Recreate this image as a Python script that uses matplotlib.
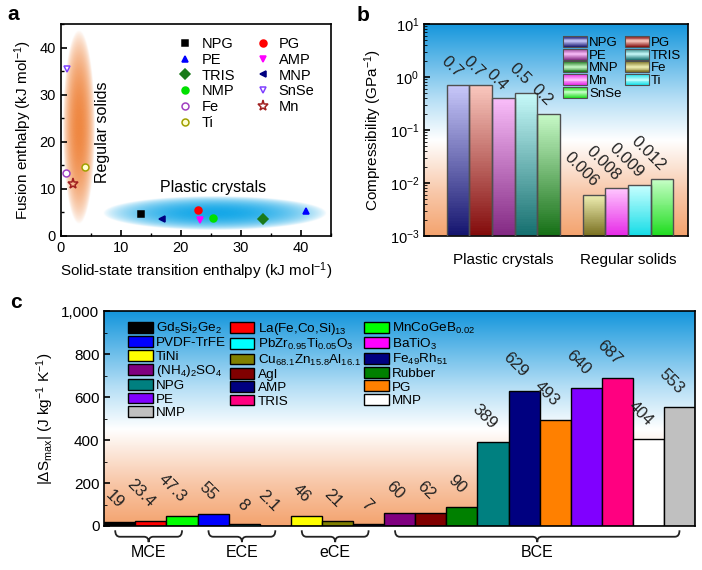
import numpy as np
import matplotlib
matplotlib.use('Agg')
import matplotlib.pyplot as plt
import matplotlib.transforms as mtransforms
from matplotlib.colors import LinearSegmentedColormap, to_rgb
from matplotlib.patches import Rectangle, Patch, PathPatch
from matplotlib.legend_handler import HandlerBase
from matplotlib.path import Path
from matplotlib.ticker import MultipleLocator, LogLocator, NullFormatter

plt.rcParams['font.family'] = 'Liberation Sans'
plt.rcParams['mathtext.fontset'] = 'custom'
plt.rcParams['mathtext.rm'] = 'Liberation Sans'
plt.rcParams['mathtext.it'] = 'Liberation Sans:italic'
plt.rcParams['font.size'] = 10.5
plt.rcParams['axes.linewidth'] = 1.2

# ---- panel a data
a_names = ['NPG', 'PE', 'TRIS', 'NMP', 'Fe', 'Ti', 'PG', 'AMP', 'MNP', 'SnSe', 'Mn']
a_trans = [13.4, 40.8, 33.7, 25.3, 0.8, 4.05, 22.8, 23.2, 16.9, 1.0, 2.1]
a_fusion = [4.6, 5.3, 3.7, 3.9, 13.3, 14.6, 5.5, 3.4, 3.7, 35.4, 11.1]
a_markers = ['s', '^', 'D', 'o', 'o', 'o', 'o', 'v', '<', 'v', '*']
a_edge = ['black', '#0000ff', '#1a7a1a', '#00e000', '#a040c0', '#a0a000',
          '#ff0000', '#ff00ff', '#000080', '#8040ff', '#a02020']
a_face = ['black', '#0000ff', '#1a7a1a', '#00e000', 'white', '#ffffd0',
          '#ff0000', '#ff00ff', '#000080', 'white', 'none']

# ---- panel b data
b_groups = ['Plastic crystals', 'Regular solids']
b_group_sizes = [5, 4]
b_names = ['NPG', 'PG', 'PE', 'TRIS', 'MNP', 'Fe', 'Mn', 'Ti', 'SnSe']
b_values = [0.7, 0.7, 0.4, 0.5, 0.2, 0.006, 0.008, 0.009, 0.012]
b_labels = ['0.7', '0.7', '0.4', '0.5', '0.2', '0.006', '0.008', '0.009', '0.012']
b_top = ['#c8c8fa', '#fac8be', '#fabefa', '#c8fafa', '#c8fac8',
         '#f0f0b4', '#ffc8ff', '#c8ffff', '#c8ffc8']
b_bottom = ['#14146e', '#820a0a', '#822882', '#146e6e', '#146e14',
            '#786e1e', '#e628e6', '#14dce6', '#1edc1e']
b_legend_order = ['NPG', 'PE', 'MNP', 'Mn', 'SnSe', 'PG', 'TRIS', 'Fe', 'Ti']

# ---- panel c data
c_names = ['Gd$_5$Si$_2$Ge$_2$', 'La(Fe,Co,Si)$_{13}$', 'MnCoGeB$_{0.02}$',
           'PVDF-TrFE', 'PbZr$_{0.95}$Ti$_{0.05}$O$_3$', 'BaTiO$_3$',
           'TiNi', 'Cu$_{68.1}$Zn$_{15.8}$Al$_{16.1}$', 'Fe$_{49}$Rh$_{51}$',
           '(NH$_4$)$_2$SO$_4$', 'AgI', 'Rubber', 'NPG', 'AMP', 'PG', 'PE',
           'TRIS', 'MNP', 'NMP']
c_values = [19, 23.4, 47.3, 55, 8, 2.1, 46, 21, 7, 60, 62, 90,
            389, 629, 493, 640, 687, 404, 553]
c_labels = ['19', '23.4', '47.3', '55', '8', '2.1', '46', '21', '7', '60', '62',
            '90', '389', '629', '493', '640', '687', '404', '553']
c_colors = ['#000000', '#ff0000', '#00ff00', '#0000ff', '#00ffff', '#ff00ff',
            '#ffff00', '#808000', '#000080', '#800080', '#800000', '#008000',
            '#008080', '#000080', '#ff8000', '#8000ff', '#ff0080', '#ffffff',
            '#c0c0c0']
c_groups = ['MCE', 'ECE', 'eCE', 'BCE']
c_group_sizes = [3, 3, 3, 10]

bg_cmap = LinearSegmentedColormap.from_list('bg', [
    (0.0, '#f4a36e'), (0.2, '#f8c7a8'), (0.45, '#ffffff'),
    (0.65, '#b4def5'), (1.0, '#1496dc')])

fig = plt.figure(figsize=(7.02, 5.70), dpi=100)


def add_background(pos):
    bg = fig.add_axes(pos, zorder=-1)
    bg.imshow(np.linspace(0, 1, 256)[:, None], extent=[0, 1, 0, 1],
              aspect='auto', cmap=bg_cmap, origin='lower')
    bg.axis('off')


def soft_ellipse(ax, cx, cy, rx, ry, color):
    xs = np.linspace(cx - rx, cx + rx, 300)
    ys = np.linspace(cy - ry, cy + ry, 300)
    X, Y = np.meshgrid(xs, ys)
    r2 = ((X - cx) / rx) ** 2 + ((Y - cy) / ry) ** 2
    img = np.zeros(X.shape + (4,))
    img[..., :3] = to_rgb(color)
    img[..., 3] = 0.92 * np.clip(1 - r2, 0, 1) ** 0.75
    ax.imshow(img, extent=[cx - rx, cx + rx, cy - ry, cy + ry],
              origin='lower', aspect='auto', zorder=1, interpolation='bilinear')


# ================= panel a
ax_a = fig.add_axes([0.0865, 0.586, 0.385, 0.372])
soft_ellipse(ax_a, 2.9, 23.0, 2.6, 20.5, '#ee7d31')
soft_ellipse(ax_a, 25.6, 4.8, 18.6, 3.6, '#00a0e6')
for i, name in enumerate(a_names):
    ms = 8 if a_markers[i] == '*' else 5
    ax_a.plot(a_trans[i], a_fusion[i], ls='none', marker=a_markers[i], ms=ms,
              mfc=a_face[i], mec=a_edge[i], mew=1.1, label=name, zorder=3)
ax_a.text(7.0, 22, 'Regular solids', rotation=90, ha='center', va='center',
          fontsize=11.5)
ax_a.text(25.3, 10.3, 'Plastic crystals', ha='center', va='center', fontsize=11.5)
ax_a.set_xlim(0, 45)
ax_a.set_ylim(0, 45)
ax_a.xaxis.set_major_locator(MultipleLocator(10))
ax_a.xaxis.set_minor_locator(MultipleLocator(5))
ax_a.yaxis.set_major_locator(MultipleLocator(10))
ax_a.yaxis.set_minor_locator(MultipleLocator(5))
ax_a.tick_params(which='both', direction='in', top=False, right=False)
ax_a.tick_params(which='major', length=4, width=1.2)
ax_a.tick_params(which='minor', length=2.5, width=1)
ax_a.set_xlabel('Solid-state transition enthalpy (kJ mol$^{-1}$)', fontsize=11)
ax_a.set_ylabel('Fusion enthalpy (kJ mol$^{-1}$)', fontsize=11)
ax_a.legend(ncol=2, loc='upper left', bbox_to_anchor=(0.38, 1.0), frameon=False,
            fontsize=10.5, handletextpad=0.5, labelspacing=0.12,
            columnspacing=1.3, handlelength=1.2)
fig.text(0.01, 0.975, 'a', fontsize=15, fontweight='bold', va='center')

# ================= panel b
pos_b = [0.604, 0.586, 0.376, 0.372]
add_background(pos_b)
ax_b = fig.add_axes(pos_b)
ax_b.set_facecolor('none')
ax_b.set_yscale('log')
ax_b.set_ylim(1e-3, 10)

b_pos = []
group_centers = []
start = 1
for size in b_group_sizes:
    b_pos += [start + k + 0.5 for k in range(size)]
    group_centers.append(start + size / 2)
    start += size + 1

nseg = 60
for x, v, top, bot in zip(b_pos, b_values, b_top, b_bottom):
    edges = np.geomspace(1e-3, v, nseg + 1)
    c_top, c_bot = np.array(to_rgb(top)), np.array(to_rgb(bot))
    for k in range(nseg):
        t = (k + 0.5) / nseg
        ax_b.bar(x, edges[k + 1] - edges[k], bottom=edges[k], width=1,
                 color=c_bot * (1 - t) + c_top * t, linewidth=0, zorder=2)
    ax_b.bar(x, v - 1e-3, bottom=1e-3, width=1, facecolor='none',
             edgecolor='#505050', linewidth=1, zorder=3)
for x, v, lab in zip(b_pos, b_values, b_labels):
    ax_b.text(x + 0.3, v * 1.25, lab, rotation=-45, ha='right', va='bottom',
              fontsize=12, color='#222222')

ax_b.set_xlim(0, 11.65)
ax_b.set_xticks(group_centers)
ax_b.set_xticklabels(b_groups, fontsize=11)
ax_b.tick_params(axis='x', length=0, pad=12)
ax_b.yaxis.set_major_locator(LogLocator(base=10, numticks=10))
ax_b.yaxis.set_minor_locator(LogLocator(base=10, subs=np.arange(2, 10), numticks=10))
ax_b.yaxis.set_minor_formatter(NullFormatter())
ax_b.tick_params(axis='y', which='both', direction='in')
ax_b.tick_params(axis='y', which='major', length=4, width=1.2)
ax_b.tick_params(axis='y', which='minor', length=2.5)
ax_b.set_ylabel('Compressibility (GPa$^{-1}$)', fontsize=11)


class GradHandler(HandlerBase):
    def __init__(self, top, bottom):
        super().__init__()
        self.top = np.array(to_rgb(top))
        self.bottom = np.array(to_rgb(bottom))

    def create_artists(self, legend, orig_handle, xdescent, ydescent, width,
                       height, fontsize, trans):
        n = 12
        arts = []
        for k in range(n):
            t = abs((k + 0.5) / n - 0.5) * 2
            col = self.top * (1 - t) + self.bottom * t
            arts.append(Rectangle((-xdescent, -ydescent + k * height / n), width,
                                  height / n, facecolor=col, linewidth=0,
                                  transform=trans))
        arts.append(Rectangle((-xdescent, -ydescent), width, height,
                              facecolor='none', edgecolor='#505050', lw=0.8,
                              transform=trans))
        return arts


b_handles, b_hmap = [], {}
for name in b_legend_order:
    i = b_names.index(name)
    h = Patch(label=name)
    b_handles.append(h)
    b_hmap[h] = GradHandler(b_top[i], b_bottom[i])
ax_b.legend(handles=b_handles, handler_map=b_hmap, ncol=2, loc='upper right',
            bbox_to_anchor=(1.0, 0.975), frameon=False, fontsize=9.5,
            labelspacing=-0.02, handlelength=1.8, handleheight=0.9,
            handletextpad=0.15, columnspacing=0.3, borderaxespad=0.1)
fig.text(0.508, 0.972, 'b', fontsize=15, fontweight='bold', va='center')

# ================= panel c
pos_c = [0.1486, 0.0772, 0.8415, 0.377]
add_background(pos_c)
ax_c = fig.add_axes(pos_c)
ax_c.set_facecolor('none')
xs = np.arange(len(c_values))
bars = ax_c.bar(xs, c_values, width=1, color=c_colors, edgecolor='black',
                linewidth=1, zorder=2)
for x, v, lab in zip(xs, c_values, c_labels):
    ax_c.text(x + 0.22, v + 50, lab, rotation=-45, ha='right', va='bottom',
              fontsize=12, color='#222222')
ax_c.set_xlim(-0.5, len(c_values) - 0.5)
ax_c.set_ylim(0, 1000)
ax_c.set_xticks([])
ax_c.yaxis.set_major_locator(MultipleLocator(200))
ax_c.yaxis.set_minor_locator(MultipleLocator(100))
ax_c.set_yticks([0, 200, 400, 600, 800, 1000])
ax_c.set_yticklabels(['0', '200', '400', '600', '800', '1,000'], fontsize=11)
ax_c.tick_params(axis='y', which='both', direction='in')
ax_c.tick_params(axis='y', which='major', length=4, width=1.2)
ax_c.tick_params(axis='y', which='minor', length=2.5)
ax_c.set_ylabel(r'|$\Delta$S$_{\rm max}$| (J kg$^{-1}$ K$^{-1}$)', fontsize=11)

# braces under groups
btr = mtransforms.blended_transform_factory(ax_c.transData, ax_c.transAxes)
s = 0
for name, size in zip(c_groups, c_group_sizes):
    x0, x1 = s - 0.15, s + size - 1
    xm = (x0 + x1) / 2
    h = 0.15
    verts = [(x0, -0.02), (x0, -0.05), (x0 + h, -0.05),
             (xm - h, -0.05),
             (xm, -0.05), (xm, -0.075),
             (xm, -0.05), (xm + h, -0.05),
             (x1 - h, -0.05),
             (x1, -0.05), (x1, -0.02)]
    codes = [Path.MOVETO, Path.CURVE3, Path.CURVE3, Path.LINETO,
             Path.CURVE3, Path.CURVE3, Path.CURVE3, Path.CURVE3,
             Path.LINETO, Path.CURVE3, Path.CURVE3]
    ax_c.add_patch(PathPatch(Path(verts, codes), transform=btr, fill=False,
                             lw=1.3, edgecolor='#222222', clip_on=False))
    ax_c.text(xm, -0.125, name, transform=btr, ha='center', va='center',
              fontsize=11.5)
    s += size

order = sorted(range(len(c_names)), key=lambda i: (i % 3, i))
c_handles = [Patch(facecolor=c_colors[i], edgecolor='black', lw=1,
                   label=c_names[i]) for i in order]
ax_c.legend(handles=c_handles, ncol=3, loc='upper left',
            bbox_to_anchor=(0.02, 1.01), frameon=False, fontsize=9.7,
            labelspacing=0.02, handlelength=1.8, handleheight=0.85,
            handletextpad=0.25, columnspacing=0.3)
fig.text(0.014, 0.47, 'c', fontsize=15, fontweight='bold', va='center')

fig.savefig('out.png', dpi=100)
